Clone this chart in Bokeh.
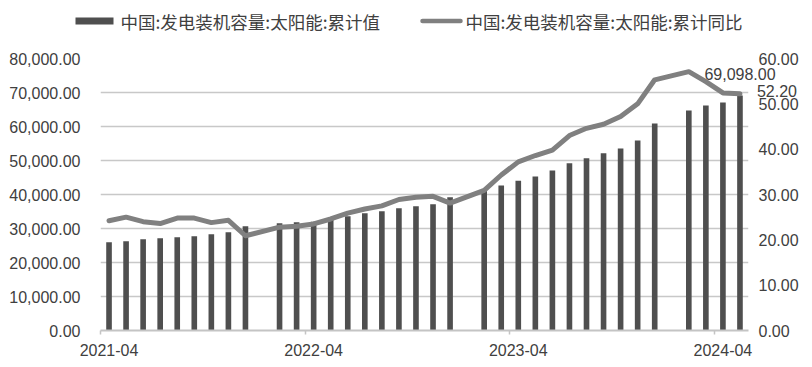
from bokeh.plotting import figure
from bokeh.models import (Range1d, LinearAxis, FixedTicker, NumeralTickFormatter,
                          ColumnDataSource)
from bokeh.core.properties import value
from bokeh.embed import file_html
from bokeh.resources import INLINE

# ---- data ----
months = ["2021-04", "2021-05", "2021-06", "2021-07", "2021-08", "2021-09", "2021-10",
          "2021-11", "2021-12",
          "2022-02", "2022-03", "2022-04", "2022-05", "2022-06", "2022-07", "2022-08",
          "2022-09", "2022-10", "2022-11", "2022-12",
          "2023-02", "2023-03", "2023-04", "2023-05", "2023-06", "2023-07", "2023-08",
          "2023-09", "2023-10", "2023-11", "2023-12",
          "2024-02", "2024-03", "2024-04", "2024-05"]

capacity = [25940, 26240, 26830, 27120, 27410, 27700, 28290, 28880, 30640,
            31520, 31820, 32000, 32600, 33590, 34470, 35060, 35940, 36530, 37110, 39170,
            41000, 42650, 44070, 45300, 47050, 49160, 50630, 52100, 53560, 55910, 60910,
            64730, 66200, 67080, 69098]

yoy = [24.2, 25.0, 24.0, 23.6, 24.8, 24.8, 23.8, 24.3, 20.9,
       22.8, 23.0, 23.5, 24.6, 25.9, 26.8, 27.5, 28.9, 29.4, 29.6, 28.1,
       30.9, 34.3, 37.2, 38.6, 39.8, 43.0, 44.6, 45.5, 47.2, 50.0, 55.3,
       57.1, 54.9, 52.4, 52.2]

tick_labels = ["2021-04", "2022-04", "2023-04", "2024-04"]
left_ticks = [0, 10000, 20000, 30000, 40000, 50000, 60000, 70000, 80000]
right_ticks = [0, 10, 20, 30, 40, 50, 60]

series_names = ["中国:发电装机容量:太阳能:累计值", "中国:发电装机容量:太阳能:累计同比"]

# month index relative to the first month
y0, m0 = int(months[0][:4]), int(months[0][5:])
def midx(s):
    return (int(s[:4]) - y0) * 12 + int(s[5:]) - m0

xs = [midx(m) for m in months]
n_months = midx(months[-1]) + 1

src = ColumnDataSource(dict(x=xs, cap=capacity, yoy=yoy))

TEXT = "#404040"
NUMFONT = "Liberation Sans"
CJK = "Noto Sans CJK SC"
BAR_COLOR = "#4f4f4f"
LINE_COLOR = "#808080"

# layout (screen px)
W, H = 804, 361
FL, FR, FT, FB = 100, 748, 58, 330   # plot frame edges

xr = Range1d(-0.5, n_months - 0.5)
yrng = Range1d(left_ticks[0], left_ticks[-1])

p = figure(width=W, height=H, output_backend="svg", toolbar_location=None,
           x_range=xr, y_range=yrng,
           min_border_left=FL, min_border_right=W - FR, min_border_top=FT,
           min_border_bottom=H - FB)
p.outline_line_color = None
p.background_fill_color = "white"
p.border_fill_color = "white"

p.extra_y_ranges = {"yoy": Range1d(right_ticks[0], right_ticks[-1])}

p.xgrid.visible = False
p.ygrid.grid_line_color = "#c8c8c8"
p.ygrid.grid_line_width = 1.5

def style_y(ax, standoff):
    ax.axis_line_color = None
    ax.major_tick_line_color = None
    ax.minor_tick_line_color = None
    ax.major_label_standoff = standoff
    ax.major_label_text_font = NUMFONT
    ax.major_label_text_font_size = "16px"
    ax.major_label_text_color = TEXT

yl = p.yaxis[0]
yl.ticker = FixedTicker(ticks=left_ticks)
yl.formatter = NumeralTickFormatter(format="0,0.00")
style_y(yl, 14)

yr = LinearAxis(y_range_name="yoy", ticker=FixedTicker(ticks=right_ticks),
                formatter=NumeralTickFormatter(format="0.00"))
style_y(yr, 4)
p.add_layout(yr, "right")

xa = p.xaxis[0]
tick_pos = [midx(t) for t in tick_labels]
xa.ticker = FixedTicker(ticks=tick_pos, minor_ticks=[t - 0.5 for t in tick_pos])
xa.major_label_overrides = {t: lab for t, lab in zip(tick_pos, tick_labels)}
xa.axis_line_color = "#c4c4c4"
xa.axis_line_width = 2
xa.major_tick_line_color = None
xa.minor_tick_line_color = "#c4c4c4"
xa.minor_tick_line_width = 1.5
xa.minor_tick_in = 0
xa.minor_tick_out = 4
xa.major_label_standoff = 7
xa.major_label_text_font = NUMFONT
xa.major_label_text_font_size = "16px"
xa.major_label_text_color = TEXT

bars = p.vbar(x="x", top="cap", width=0.33, source=src,
              fill_color=BAR_COLOR, line_color=None)
line = p.line(x="x", y="yoy", source=src, y_range_name="yoy",
              line_color=LINE_COLOR, line_width=5, line_join="round", line_cap="round")

# data labels for the last points (overlay text glyphs, not clipped to the frame)
p.text(x=[xs[-1]], y=[capacity[-1]], text=[f"{capacity[-1]:,.2f}"],
       text_align="center", text_baseline="middle", y_offset=-22,
       text_font=value(NUMFONT), text_font_size="16px", text_color=TEXT,
       level="overlay")
p.text(x=[xs[-1]], y=[yoy[-1]], text=[f"{yoy[-1]:.2f}"], y_range_name="yoy",
       text_align="left", text_baseline="middle", x_offset=17, y_offset=-3,
       text_font=value(NUMFONT), text_font_size="16px", text_color=TEXT,
       level="overlay")

# ---- legend strip above the frame (overlay glyphs placed in screen px) ----
def sx2x(sx):
    return xr.start + (sx - FL) / (FR - FL) * (xr.end - xr.start)

def sy2y(sy):
    return yrng.start + (FB - sy) / (FB - FT) * (yrng.end - yrng.start)

LEG_Y = 20.5
p.rect(x=[sx2x(94)], y=[sy2y(LEG_Y)], width=38, height=7,
       width_units="screen", height_units="screen",
       fill_color=BAR_COLOR, line_color=None, level="overlay")
p.text(x=[sx2x(120)], y=[sy2y(LEG_Y)], text=[series_names[0]],
       text_align="left", text_baseline="middle",
       text_font=value(CJK), text_font_size="17.5px", text_color=TEXT,
       level="overlay")
p.segment(x0=[sx2x(422)], y0=[sy2y(LEG_Y)], x1=[sx2x(460)], y1=[sy2y(LEG_Y)],
          line_color=LINE_COLOR, line_width=4.5, line_cap="round", level="overlay")
p.text(x=[sx2x(465)], y=[sy2y(LEG_Y)], text=[series_names[1]],
       text_align="left", text_baseline="middle",
       text_font=value(CJK), text_font_size="17.5px", text_color=TEXT,
       level="overlay")

open("out.html", "w").write(file_html(p, INLINE))
